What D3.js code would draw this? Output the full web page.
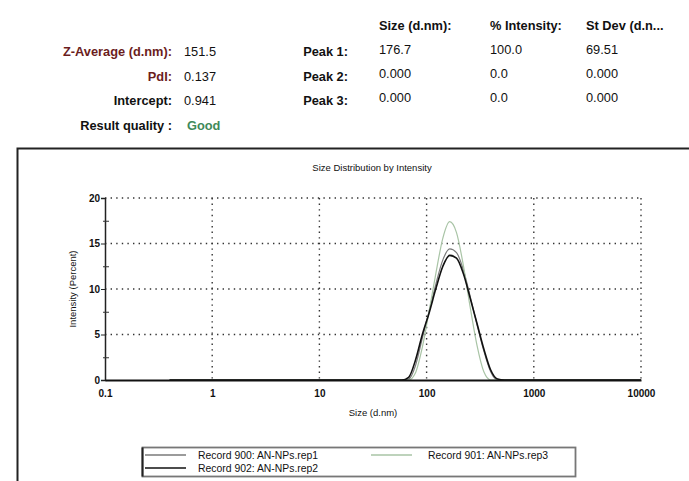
<!DOCTYPE html>
<html>
<head>
<meta charset="utf-8">
<script src="https://cdn.jsdelivr.net/npm/d3@7"></script>
<style>
  body { margin: 0; background: #fff; }
  svg { display: block; font-family: "Liberation Sans", Arial, sans-serif; }
</style>
</head>
<body>
<svg id="chart" width="689" height="481"></svg>
<script>
// summary block
const summaryLabels = ["Z-Average (d.nm):", "PdI:", "Intercept:", "Result quality :"];
const summaryValues = ["151.5", "0.137", "0.941", "Good"];
const peakColumns = ["Size (d.nm):", "% Intensity:", "St Dev (d.n..."];
const peakLabels = ["Peak 1:", "Peak 2:", "Peak 3:"];
const peakValues = [
  ["176.7", "100.0", "69.51"],
  ["0.000", "0.0", "0.000"],
  ["0.000", "0.0", "0.000"]
];

// size bins (d.nm)
const sizes = [0.4, 0.4632, 0.5365, 0.6213, 0.7195, 0.8332, 0.9649, 1.117, 1.294, 1.499,
  1.736, 2.01, 2.328, 2.696, 3.122, 3.615, 4.187, 4.849, 5.615, 6.503,
  7.531, 8.721, 10.1, 11.7, 13.54, 15.69, 18.17, 21.04, 24.36, 28.21,
  32.67, 37.84, 43.82, 50.75, 58.77, 68.06, 78.82, 91.28, 105.7, 122.4,
  141.8, 164.2, 190.1, 220.2, 255.0, 295.3, 342.0, 396.1, 458.7, 531.2,
  615.1, 712.4, 825.0, 955.4, 1106, 1281, 1484, 1718, 1990, 2305,
  2669, 3091, 3580, 4145, 4801, 5560, 6439, 7456, 8635, 10000];

// intensity (%) per bin
const rep1 = [0, 0, 0, 0, 0, 0, 0, 0, 0, 0,
  0, 0, 0, 0, 0, 0, 0, 0, 0, 0,
  0, 0, 0, 0, 0, 0, 0, 0, 0, 0,
  0, 0, 0, 0, 0, 0.1, 1.6, 4.6, 7.6, 10.6,
  13.2, 14.4, 14.0, 12.1, 9.2, 6.1, 3.2, 0.9, 0, 0,
  0, 0, 0, 0, 0, 0, 0, 0, 0, 0,
  0, 0, 0, 0, 0, 0, 0, 0, 0, 0];
const rep2 = [0, 0, 0, 0, 0, 0, 0, 0, 0, 0,
  0, 0, 0, 0, 0, 0, 0, 0, 0, 0,
  0, 0, 0, 0, 0, 0, 0, 0, 0, 0,
  0, 0, 0, 0, 0, 0.3, 2.2, 5.0, 7.4, 10.1,
  12.5, 13.7, 13.4, 11.7, 9.0, 6.2, 3.4, 1.1, 0.1, 0,
  0, 0, 0, 0, 0, 0, 0, 0, 0, 0,
  0, 0, 0, 0, 0, 0, 0, 0, 0, 0];
const rep3 = [0, 0, 0, 0, 0, 0, 0, 0, 0, 0,
  0, 0, 0, 0, 0, 0, 0, 0, 0, 0,
  0, 0, 0, 0, 0, 0, 0, 0, 0, 0,
  0, 0, 0, 0, 0, 0, 0.8, 3.6, 7.6, 11.8,
  15.6, 17.4, 16.2, 12.6, 8.0, 3.8, 0.9, 0, 0, 0,
  0, 0, 0, 0, 0, 0, 0, 0, 0, 0,
  0, 0, 0, 0, 0, 0, 0, 0, 0, 0];

const records = [
  { name: "Record 900: AN-NPs.rep1", values: rep1, color: "#7a7a7a", width: 1.2 },
  { name: "Record 901: AN-NPs.rep3", values: rep3, color: "#a9c4a6", width: 1.2 },
  { name: "Record 902: AN-NPs.rep2", values: rep2, color: "#111", width: 1.6 }
];

const xTicks = [0.1, 1, 10, 100, 1000, 10000];
const yTicks = [0, 5, 10, 15, 20];
const yMinor = [2.5, 7.5, 12.5, 17.5];

const svg = d3.select("#chart");

// ---- header table ----
const head = svg.append("g").style("font-size", "12.8px");
summaryLabels.forEach((t, i) => {
  head.append("text")
    .attr("x", 172).attr("y", 56 + i * 24.5)
    .attr("text-anchor", "end")
    .attr("font-weight", "bold")
    .attr("fill", i < 2 ? "#6b1d1d" : "#111")
    .text(t);
  head.append("text")
    .attr("x", i === 3 ? 187 : 184).attr("y", 56 + i * 24.5)
    .attr("fill", i === 3 ? "#3f8a5a" : "#111")
    .attr("font-weight", i === 3 ? "bold" : "normal")
    .text(summaryValues[i]);
});
const colX = [379, 490, 586];
peakColumns.forEach((t, j) => {
  head.append("text")
    .attr("x", colX[j]).attr("y", 30)
    .attr("font-weight", "bold")
    .attr("fill", "#111")
    .text(t);
});
peakLabels.forEach((t, i) => {
  head.append("text")
    .attr("x", 348).attr("y", 56 + i * 24.5)
    .attr("text-anchor", "end")
    .attr("font-weight", "bold")
    .attr("fill", "#111")
    .text(t);
  peakValues[i].forEach((v, j) => {
    head.append("text")
      .attr("x", colX[j]).attr("y", 54 + i * 24)
      .attr("fill", "#111")
      .text(v);
  });
});

// ---- chart frame ----
svg.append("rect")
  .attr("x", 17.5).attr("y", 148.5)
  .attr("width", 700).attr("height", 400)
  .attr("fill", "none")
  .attr("stroke", "#222")
  .attr("stroke-width", 2);

const x = d3.scaleLog().domain([0.1, 10000]).range([105, 641]);
const y = d3.scaleLinear().domain([0, 20]).range([380, 198]);

svg.append("text")
  .attr("x", 372).attr("y", 171)
  .attr("text-anchor", "middle")
  .style("font-size", "9.5px")
  .attr("fill", "#111")
  .text("Size Distribution by Intensity");

// dotted grid
const grid = svg.append("g")
  .attr("stroke", "#333")
  .attr("stroke-width", 1.4)
  .attr("stroke-dasharray", "1.4,4.2");
grid.selectAll(".hg")
  .data(yTicks.slice(1))
  .enter()
  .append("line")
  .attr("x1", x(0.1)).attr("x2", x(10000))
  .attr("y1", d => y(d)).attr("y2", d => y(d));
grid.selectAll(".vg")
  .data(xTicks.slice(1))
  .enter()
  .append("line")
  .attr("x1", d => x(d)).attr("x2", d => x(d))
  .attr("y1", y(20)).attr("y2", y(0));

// y axis
const yAxis = svg.append("g")
  .attr("transform", `translate(${x(0.1)},0)`)
  .call(d3.axisLeft(y).tickValues(yTicks).tickSize(4).tickPadding(1).tickFormat(d => d));
yAxis.select(".domain").attr("stroke", "#222").attr("stroke-width", 1.5);
yAxis.selectAll("line").attr("stroke", "#222");
yAxis.selectAll("text")
  .style("font-size", "10px")
  .style("font-weight", "bold")
  .style("font-family", "Liberation Sans, Arial, sans-serif")
  .attr("fill", "#111");
const yMinorAxis = svg.append("g")
  .attr("transform", `translate(${x(0.1) + 4},0)`)
  .call(d3.axisLeft(y).tickValues(yMinor).tickSize(6).tickFormat(""));
yMinorAxis.select(".domain").remove();
yMinorAxis.selectAll("line").attr("stroke", "#333");

svg.append("text")
  .attr("transform", "translate(76,289) rotate(-90)")
  .attr("text-anchor", "middle")
  .style("font-size", "9.5px")
  .attr("fill", "#111")
  .text("Intensity (Percent)");

// curves
const line = d3.line()
  .x((d, i) => x(sizes[i]))
  .y(d => y(d))
  .curve(d3.curveMonotoneX);
svg.append("g")
  .selectAll("path")
  .data(records)
  .enter()
  .append("path")
  .attr("d", d => line(d.values))
  .attr("fill", "none")
  .attr("stroke", d => d.color)
  .attr("stroke-width", d => d.width);

// x axis
const xAxis = svg.append("g")
  .attr("transform", `translate(0,${y(0)})`)
  .call(d3.axisBottom(x).tickValues(xTicks).tickSize(0).tickPadding(10).tickFormat(d => String(d)));
xAxis.select(".domain").attr("stroke", "#111").attr("stroke-width", 2.2);
xAxis.selectAll("text")
  .style("font-size", "10px")
  .style("font-weight", "bold")
  .style("font-family", "Liberation Sans, Arial, sans-serif")
  .attr("fill", "#111");

svg.append("text")
  .attr("x", 373).attr("y", 416)
  .attr("text-anchor", "middle")
  .style("font-size", "9.5px")
  .attr("fill", "#111")
  .text("Size (d.nm)");

// legend
svg.append("rect")
  .attr("x", 142.5).attr("y", 447.5)
  .attr("width", 433).attr("height", 29)
  .attr("fill", "none")
  .attr("stroke", "#777")
  .attr("stroke-width", 1.8);
svg.append("line")
  .attr("x1", 142.5).attr("x2", 142.5)
  .attr("y1", 447.5).attr("y2", 476.5)
  .attr("stroke", "#222").attr("stroke-width", 2);

const legendPos = [
  { lx: 145, ty: 455 },
  { lx: 371, ty: 455 },
  { lx: 145, ty: 468 }
];
const legend = svg.append("g")
  .selectAll("g")
  .data(records)
  .enter()
  .append("g")
  .attr("transform", (d, i) => `translate(${legendPos[i].lx},${legendPos[i].ty})`);
legend.append("line")
  .attr("x1", 0).attr("x2", 41)
  .attr("stroke", d => d.color)
  .attr("stroke-width", 1.5);
legend.append("text")
  .attr("x", (d, i) => i === 1 ? 57 : 53)
  .attr("y", 3.5)
  .style("font-size", "10.4px")
  .attr("fill", "#111")
  .text(d => d.name);
</script>
</body>
</html>
